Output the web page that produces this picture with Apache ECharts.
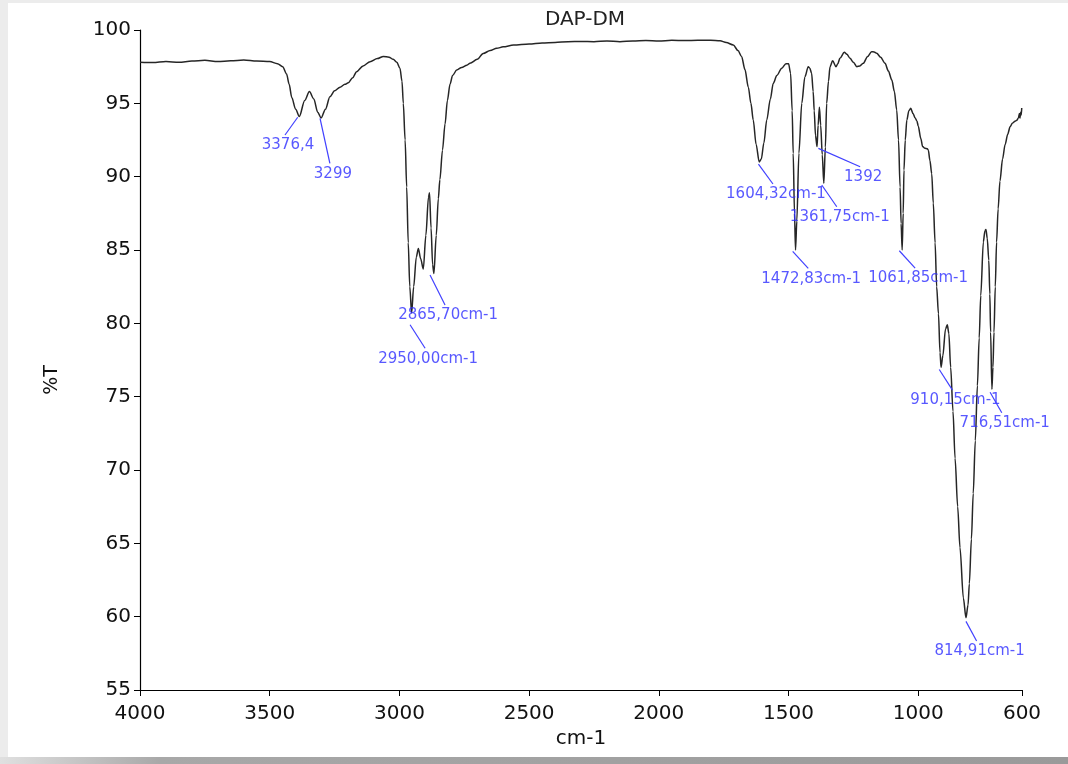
<!DOCTYPE html>
<html>
<head>
<meta charset="utf-8">
<title>DAP-DM</title>
<script src="https://cdn.jsdelivr.net/npm/echarts@6.0.0/dist/echarts.min.js"></script>
<style>
    html, body { margin: 0; padding: 0; width: 1068px; height: 764px; overflow: hidden; background: #ececec; }
    #panel { position: absolute; left: 8px; top: 3px; width: 1060px; height: 754px; background: #fff; }
    #shade { position: absolute; left: 0; top: 757px; width: 1068px; height: 7px; background: linear-gradient(to right, #e0e0e0 0, #a8a8a8 15%, #9a9a9a 100%); }
    #firstChart { position: absolute; left: 0; top: 0; width: 1068px; height: 764px; }
</style>
</head>
<body>
<div id="panel"></div>
<div id="shade"></div>
<div id="firstChart"></div>
<script>
/** ---------------- 光谱数据 (cm-1, %T) ---------------- */
var waveNumbers = [
    4000, 3950, 3900, 3850, 3800, 3750, 3700, 3650, 3600, 3550, 3500, 3470, 3450, 3435, 3425, 3415, 3400, 3386,
    3365, 3347, 3330, 3315, 3302, 3285, 3268, 3250, 3229, 3210, 3197, 3180, 3165, 3140, 3113, 3085, 3062, 3040,
    3024, 3010, 2998, 2990, 2985, 2978, 2972, 2966, 2960, 2953, 2945, 2935, 2927, 2918, 2908, 2898, 2888, 2884,
    2878, 2872, 2867, 2858, 2850, 2844, 2834, 2824, 2815, 2805, 2795, 2779, 2760, 2740, 2728, 2700, 2677, 2650,
    2625, 2600, 2560, 2500, 2450, 2400, 2350, 2300, 2250, 2200, 2150, 2100, 2050, 2000, 1950, 1900, 1850, 1800,
    1764, 1740, 1713, 1695, 1681, 1668, 1655, 1645, 1636, 1625, 1613, 1605, 1595, 1584, 1570, 1559, 1545, 1526,
    1510, 1500, 1492, 1486, 1482, 1477, 1473, 1468, 1460, 1449, 1437, 1424, 1418, 1411, 1405, 1401, 1396, 1390,
    1386, 1381, 1376, 1370, 1364, 1358, 1353, 1346, 1340, 1330, 1317, 1310, 1302, 1285, 1275, 1263, 1250, 1237,
    1225, 1212, 1195, 1180, 1170, 1160, 1145, 1128, 1115, 1102, 1092, 1083, 1076, 1070, 1066, 1062, 1058, 1055,
    1050, 1044, 1036, 1029, 1020, 1012, 1005, 1000, 990, 983, 974, 965, 961, 955, 948, 942, 935, 929,
    922, 916, 912, 905, 895, 888, 882, 875, 866, 858, 848, 839, 826, 816, 808, 803, 795, 788,
    780, 772, 765, 759, 749, 743, 739, 734, 728, 724, 721, 716, 712, 708, 703, 698, 692, 685,
    675, 665, 655, 646, 637, 627, 620, 614, 610, 608, 605, 603, 601
];
var transmittance = [
    97.80, 97.78, 97.85, 97.80, 97.88, 97.93, 97.85, 97.90, 97.95, 97.88, 97.85, 97.70, 97.50, 97.00, 96.30, 95.40, 94.60, 94.10,
    95.20, 95.80, 95.30, 94.40, 94.00, 94.60, 95.45, 95.85, 96.10, 96.30, 96.40, 96.75, 97.16, 97.55, 97.84, 98.05, 98.20, 98.15,
    98.00, 97.80, 97.40, 96.50, 95.00, 92.50, 89.30, 85.50, 82.50, 80.70, 82.50, 84.50, 85.10, 84.40, 83.70, 86.00, 88.60, 88.90,
    86.50, 84.00, 83.40, 86.00, 88.50, 89.80, 91.80, 93.60, 95.20, 96.30, 96.90, 97.27, 97.45, 97.60, 97.73, 98.00, 98.40, 98.60,
    98.75, 98.85, 98.98, 99.05, 99.12, 99.15, 99.20, 99.22, 99.20, 99.25, 99.20, 99.25, 99.28, 99.25, 99.30, 99.28, 99.30, 99.30,
    99.27, 99.15, 98.98, 98.60, 98.20, 97.30, 96.10, 95.00, 93.86, 92.20, 91.00, 91.20, 92.30, 93.86, 95.30, 96.36, 96.90, 97.40,
    97.70, 97.70, 97.05, 94.50, 91.60, 87.50, 85.00, 87.00, 91.60, 95.00, 96.80, 97.50, 97.40, 97.05, 95.80, 94.50, 92.80, 92.05,
    93.50, 94.73, 93.50, 91.50, 89.55, 92.00, 95.00, 96.50, 97.50, 97.90, 97.50, 97.70, 98.07, 98.48, 98.35, 98.07, 97.80, 97.50,
    97.55, 97.73, 98.20, 98.52, 98.50, 98.41, 98.15, 97.73, 97.20, 96.60, 95.80, 94.55, 92.50, 89.30, 86.80, 85.00, 87.50, 90.45,
    92.50, 93.86, 94.50, 94.66, 94.30, 94.00, 93.80, 93.45, 92.60, 92.05, 91.93, 91.90, 91.80, 91.10, 90.20, 88.20, 85.50, 82.50,
    80.65, 78.00, 77.00, 77.80, 79.60, 79.90, 79.30, 77.00, 74.00, 70.80, 67.50, 64.70, 61.27, 59.93, 60.80, 62.25, 65.30, 68.40,
    72.00, 75.74, 79.00, 81.90, 85.55, 86.30, 86.40, 85.80, 84.30, 82.00, 79.40, 75.50, 77.00, 79.40, 82.50, 85.55, 87.80, 89.70,
    91.20, 92.20, 92.90, 93.40, 93.65, 93.77, 93.85, 94.00, 94.30, 94.00, 94.40, 94.20, 94.68
];

/** ---------------- 峰标注 ---------------- */
var peakLabels = ['3376,4', '3299', '2950,00cm-1', '2865,70cm-1', '1604,32cm-1', '1392',
    '1361,75cm-1', '1472,83cm-1', '1061,85cm-1', '910,15cm-1', '716,51cm-1', '814,91cm-1'];
// 引线起点 (峰位附近)
var leaderFromWn = [3392, 3306, 2959, 2882, 1616, 1385, 1372, 1484, 1073, 919, 723, 816];
var leaderFromT = [94.05, 93.98, 79.9, 83.3, 90.86, 91.93, 89.43, 84.9, 84.95, 76.85, 75.3, 59.68];
// 引线终点 (标注文字上方)
var leaderToWn = [3441, 3268, 2901, 2824, 1560, 1224, 1314, 1424, 1012, 868, 678, 775];
var leaderToT = [92.84, 90.9, 78.3, 81.25, 89.5, 90.68, 87.95, 83.75, 83.77, 75.45, 73.9, 58.34];

var xTickValues = [4000, 3500, 3000, 2500, 2000, 1500, 1000, 600];

initChart();

/** --------绘制光谱图 ------ */
function initChart() {
    var firstChart = echarts.init(document.getElementById('firstChart'));
    var fontName = 'DejaVu Sans';
    var labelBlue = '#2e2eff';

    var spectrum = [];
    for (var i = 0; i < waveNumbers.length; i++) {
        spectrum.push([waveNumbers[i], transmittance[i]]);
    }

    var labelPoints = [];
    var leaders = [];
    for (var k = 0; k < peakLabels.length; k++) {
        labelPoints.push({ name: peakLabels[k], value: [leaderToWn[k], leaderToT[k]] });
        leaders.push([
            { coord: [leaderFromWn[k], leaderFromT[k]] },
            { coord: [leaderToWn[k], leaderToT[k]] }
        ]);
    }

    var firstOption = {
        animation: false,
        backgroundColor: 'transparent',
        title: {
            text: 'DAP-DM',
            left: 580,
            top: 5,
            textAlign: 'center',
            textStyle: { fontFamily: fontName, fontSize: 20, fontWeight: 'normal', color: '#222' }
        },
        grid: { left: 140, right: 46, top: 30, bottom: 74 },
        xAxis: {
            type: 'value',
            inverse: true,
            min: 600,
            max: 4000,
            name: 'cm-1',
            nameLocation: 'middle',
            nameGap: 38,
            nameTextStyle: { fontFamily: fontName, fontSize: 20, color: '#111' },
            axisLine: { show: true, lineStyle: { color: '#000', width: 1.2 } },
            axisTick: { show: true, length: 6, customValues: xTickValues, lineStyle: { color: '#000' } },
            axisLabel: {
                customValues: xTickValues,
                margin: 14,
                fontFamily: fontName,
                fontSize: 20,
                color: '#111',
                formatter: function (v) { return String(v); }
            },
            splitLine: { show: false }
        },
        yAxis: {
            type: 'value',
            min: 55,
            max: 100,
            interval: 5,
            name: '%T',
            nameLocation: 'middle',
            nameGap: 78,
            nameRotate: 90,
            nameTextStyle: { fontFamily: fontName, fontSize: 19, color: '#111', padding: [0, 40, 0, 0] },
            axisLine: { show: true, lineStyle: { color: '#000', width: 1.2 } },
            axisTick: { show: true, length: 6, lineStyle: { color: '#000' } },
            axisLabel: { margin: 9, fontFamily: fontName, fontSize: 20, color: '#111' },
            splitLine: { show: false }
        },
        series: [
            {
                type: 'line',
                data: spectrum,
                showSymbol: false,
                smooth: 0.3,
                smoothMonotone: 'x',
                lineStyle: { color: '#262626', width: 1.5 },
                z: 3
            },
            {
                type: 'scatter',
                data: labelPoints,
                symbolSize: 0,
                silent: true,
                label: {
                    show: true,
                    position: 'bottom',
                    distance: 3,
                    offset: [3, 0],
                    formatter: function (p) { return p.name; },
                    fontFamily: fontName,
                    fontSize: 15,
                    color: labelBlue
                },
                markLine: {
                    silent: true,
                    symbol: ['none', 'none'],
                    label: { show: false },
                    lineStyle: { color: '#4040ff', width: 1.2, type: 'solid' },
                    data: leaders
                },
                z: 4
            }
        ]
    };
    firstChart.setOption(firstOption);
}
</script>
</body>
</html>
